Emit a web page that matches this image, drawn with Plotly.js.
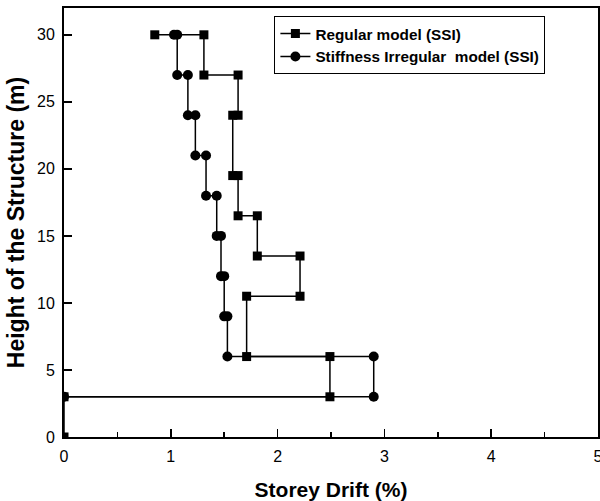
<!DOCTYPE html>
<html>
<head>
<meta charset="utf-8">
<script src="https://cdn.plot.ly/plotly-3.0.1.min.js"></script>
<style>html,body{margin:0;padding:0;background:#fff;}#chart{width:600px;height:501px;}</style>
</head>
<body>
<div id="chart"></div>
<script>
// Regular model (SSI): storey drift (%) vs height (m)
var regularDrift  = [0.85, 1.31, 1.31, 1.63, 1.63, 1.58, 1.58, 1.63, 1.63, 1.81, 1.81, 2.21, 2.21, 1.71, 1.71, 2.49, 2.49, 0, 0];
var regularHeight = [30, 30, 27, 27, 24, 24, 19.5, 19.5, 16.5, 16.5, 13.5, 13.5, 10.5, 10.5, 6, 6, 3, 3, 0];

// Stiffness Irregular model (SSI)
var irregDrift  = [1.03, 1.06, 1.06, 1.16, 1.16, 1.23, 1.23, 1.33, 1.33, 1.43, 1.43, 1.47, 1.47, 1.50, 1.50, 1.53, 1.53, 2.90, 2.90, 0];
var irregHeight = [30, 30, 27, 27, 24, 24, 21, 21, 18, 18, 15, 15, 12, 12, 9, 9, 6, 6, 3, 3];

var seriesNames = ["Regular model (SSI)", "Stiffness Irregular\u00a0 model (SSI)"];
var xTitle = "Storey Drift (%)";
var yTitle = "Height of the Structure (m)";

var traces = [
  {x: regularDrift, y: regularHeight, name: seriesNames[0], mode: "lines+markers", type: "scatter",
   line: {color: "#000", width: 1.5}, marker: {symbol: "square", size: 9, color: "#000"}},
  {x: irregDrift, y: irregHeight, name: seriesNames[1], mode: "lines+markers", type: "scatter",
   line: {color: "#000", width: 1.5}, marker: {symbol: "circle", size: 10, color: "#000"}}
];

var axisFont = {family: "Liberation Sans, Arial, sans-serif", size: 16, color: "#000"};
var layout = {
  width: 600, height: 501,
  margin: {l: 64, r: 2, t: 8, b: 64},
  paper_bgcolor: "#fff", plot_bgcolor: "#fff",
  showlegend: true,
  legend: {x: 0.394, y: 0.981, xanchor: "left", yanchor: "top",
    bordercolor: "#000", borderwidth: 1, bgcolor: "#fff",
    font: {family: "Liberation Sans, Arial, sans-serif", size: 15.3, color: "#000", weight: "bold"},
    tracegroupgap: 0},
  xaxis: {range: [0, 5], dtick: 1, tick0: 0, ticks: "inside", ticklen: 8, tickwidth: 1.5, tickcolor: "#000",
    showline: true, linecolor: "#000", linewidth: 2, mirror: true, showgrid: false, zeroline: false,
    tickfont: axisFont, ticklabeloverflow: "allow", ticklabelstandoff: 4,
    minor: {dtick: 0.5, tick0: 0, ticks: "inside", ticklen: 5, tickwidth: 1.5, tickcolor: "#000", showgrid: false},
    title: {text: xTitle, font: {family: "Liberation Sans, Arial, sans-serif", size: 21, color: "#000", weight: "bold"}, standoff: 18}},
  yaxis: {range: [0, 32], dtick: 5, tick0: 0, ticks: "inside", ticklen: 8, tickwidth: 1.5, tickcolor: "#000",
    showline: true, linecolor: "#000", linewidth: 2, mirror: true, showgrid: false, zeroline: false,
    tickfont: axisFont, ticklabelstandoff: 4,
    title: {text: yTitle, font: {family: "Liberation Sans, Arial, sans-serif", size: 23, color: "#000", weight: "bold"}, standoff: 6}}
};

Plotly.newPlot("chart", traces, layout, {displayModeBar: false, staticPlot: true});
</script>
</body>
</html>
